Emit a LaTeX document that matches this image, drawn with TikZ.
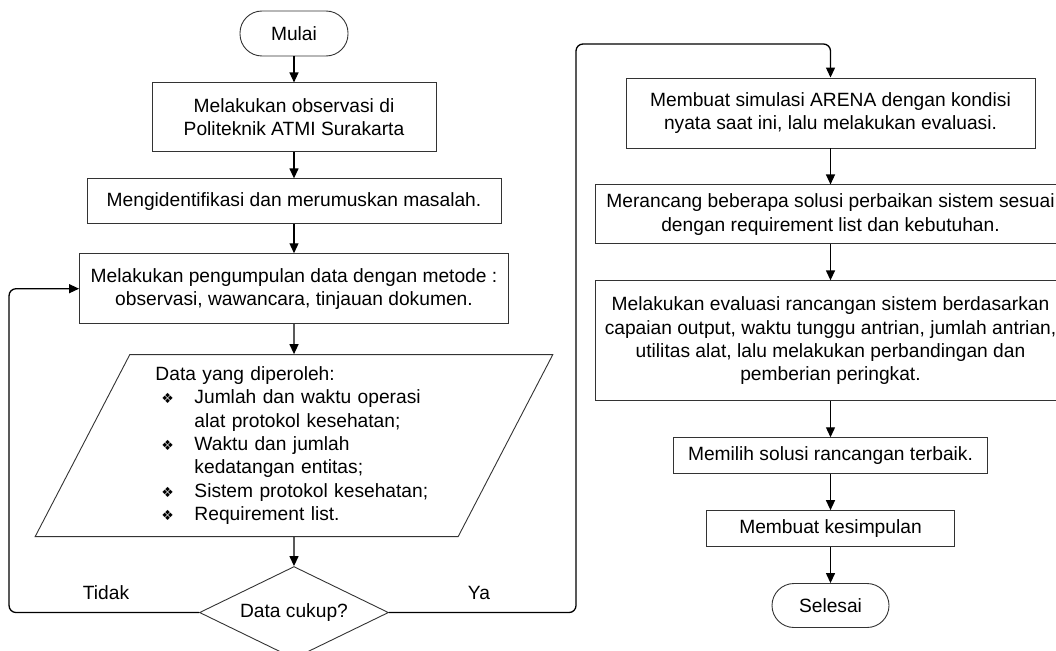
\documentclass[tikz,border=0pt]{standalone}
\usepackage{fontspec}
\setmainfont{Liberation Sans}
\newfontfamily\symfont{DejaVu Sans}
\usetikzlibrary{arrows.meta,positioning,shapes.geometric}
\definecolor{ink}{HTML}{000000}
\definecolor{frame}{HTML}{333333}
\tikzset{
  >={Triangle[length=10pt,width=9pt]},
  every node/.style={font=\fontsize{19.2}{23.3}\selectfont,text=ink},
  box/.style={draw=frame,line width=0.9pt,align=center,inner sep=4pt},
  termbox/.style={box,rounded corners=22pt,minimum width=108pt,minimum height=45pt},
  databox/.style={trapezium,trapezium left angle=63.4,trapezium right angle=116.6,trapezium stretches=true,
    draw=frame,line width=0.9pt,minimum width=521pt,minimum height=182pt,text width=277pt,align=left,inner sep=2pt},
  decbox/.style={diamond,aspect=2,draw=frame,line width=0.9pt,minimum width=189pt,minimum height=92pt,inner sep=0pt},
  arrow/.style={->,line width=1.3pt,draw=ink},
  backarr/.style={arrow,rounded corners=7pt},
  lbl/.style={inner sep=1pt},
}
\newcommand{\bul}{\makebox[39pt][l]{\hspace{6pt}{\symfont\fontsize{14}{14}\selectfont ❖}}}

\begin{document}
\begin{tikzpicture}[x=1pt,y=-1pt]
  \useasboundingbox (0,0) rectangle (1056,650);
  % left column
  \node[termbox] (start) at (294,33.5) {Mulai};
  \node[box,below=26pt of start,minimum width=284pt,minimum height=69pt] (observe) {Melakukan observasi di\\Politeknik ATMI Surakarta};
  \node[box,below=26pt of observe,minimum width=414pt,minimum height=45pt] (identify) {Mengidentifikasi dan merumuskan masalah.};
  \node[box,below=29pt of identify,minimum width=429pt,minimum height=70pt] (collect) {Melakukan pengumpulan data dengan metode :\\observasi, wawancara, tinjauan dokumen.};
  \node[databox,below=30pt of collect] (data) {Data yang diperoleh:\\
    \bul Jumlah dan waktu operasi\\
    \hspace*{39pt}alat protokol kesehatan;\\
    \bul Waktu dan jumlah\\
    \hspace*{39pt}kedatangan entitas;\\
    \bul Sistem protokol kesehatan;\\
    \bul Requirement list.};
  \node[decbox,below=29pt of data] (dec) {Data cukup?};
  % right column
  \node[box,minimum width=409pt,minimum height=70pt] (sim) at (830.5,113) {Membuat simulasi ARENA dengan kondisi\\nyata saat ini, lalu melakukan evaluasi.};
  \node[box,below=36pt of sim,minimum width=470pt,minimum height=59pt] (design) {Merancang beberapa solusi perbaikan sistem sesuai\\dengan requirement list dan kebutuhan.};
  \node[box,below=36pt of design,minimum width=470pt,minimum height=120pt] (eval) {Melakukan evaluasi rancangan sistem berdasarkan\\capaian output, waktu tunggu antrian, jumlah antrian,\\utilitas alat, lalu melakukan perbandingan dan\\pemberian peringkat.};
  \node[box,below=36pt of eval,minimum width=314pt,minimum height=36pt] (choose) {Memilih solusi rancangan terbaik.};
  \node[box,below=36pt of choose,minimum width=248pt,minimum height=36pt] (conclude) {Membuat kesimpulan};
  \node[termbox,below=36pt of conclude,minimum width=117pt,minimum height=44pt] (finish) {Selesai};
  % labels
  \node[lbl] (no) at (106,593) {Tidak};
  \node[lbl] (yes) at (479,593) {Ya};
  % connectors
  \draw[arrow] (start) -- (observe);
  \draw[arrow] (observe) -- (identify);
  \draw[arrow] (identify) -- (collect);
  \draw[arrow] (collect) -- (data);
  \draw[arrow] (data) -- (dec);
  \coordinate (turnL) at ([xshift=-70pt]collect.west);
  \draw[backarr] (dec.west) -| (turnL) -- (collect.west);
  \coordinate (turnR) at (576,44);
  \draw[backarr] (dec.east) -| (turnR) -| (sim.north);
  \draw[arrow] (sim) -- (design);
  \draw[arrow] (design) -- (eval);
  \draw[arrow] (eval) -- (choose);
  \draw[arrow] (choose) -- (conclude);
  \draw[arrow] (conclude) -- (finish);
\end{tikzpicture}
\end{document}
